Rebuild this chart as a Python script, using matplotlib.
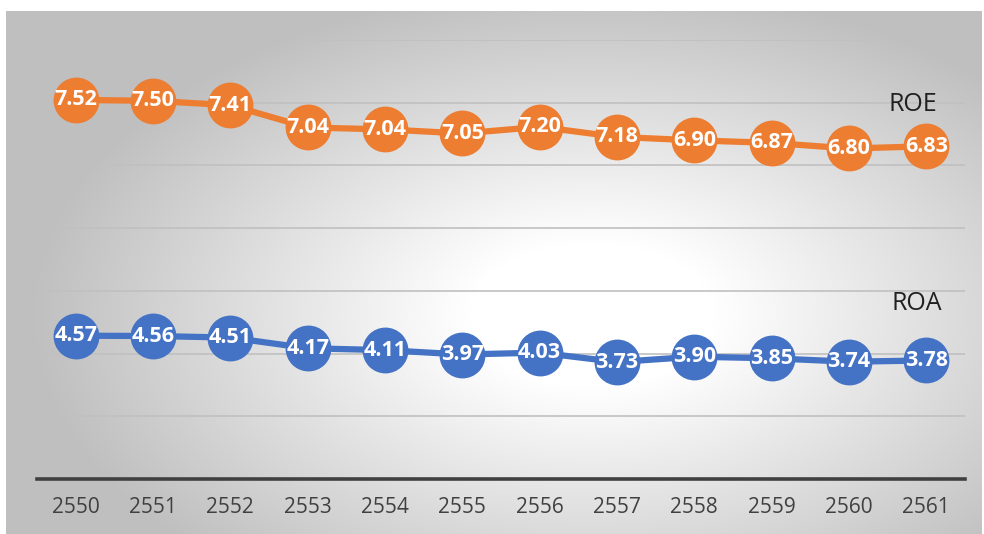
import numpy as np
import matplotlib.pyplot as plt

# data
years = ["2550", "2551", "2552", "2553", "2554", "2555",
         "2556", "2557", "2558", "2559", "2560", "2561"]
roa = [4.57, 4.56, 4.51, 4.17, 4.11, 3.97, 4.03, 3.73, 3.90, 3.85, 3.74, 3.78]
roe = [7.52, 7.50, 7.41, 7.04, 7.04, 7.05, 7.20, 7.18, 6.90, 6.87, 6.80, 6.83]

orange = "#ED7D31"
blue = "#4472C4"

plt.rcParams['font.family'] = ['Open Sans', 'DejaVu Sans']

fig = plt.figure(figsize=(9.84, 5.34), dpi=100)
fig.patch.set_facecolor("white")

# === radial gradient background ===
bg = fig.add_axes([6 / 984, 0, 976 / 984, 523 / 534])
H, W = 523, 976
yy, xx = np.mgrid[0:H, 0:W]
d = np.sqrt(((xx - 0.6 * W) / (0.5 * W)) ** 2 + ((yy - 0.58 * H) / (0.55 * H)) ** 2)
t = np.clip((d - 0.25) / 0.9, 0, 1)
v = 1 - 0.25 * t
bg.imshow(np.dstack([v, v, v]), aspect="auto", extent=[0, 1, 0, 1])
bg.set_axis_off()

# === main chart (stacked line) ===
ax = fig.add_axes([37 / 984, 55 / 534, 928 / 984, 439 / 534])
ax.set_facecolor("none")

x = np.arange(len(years))
roa_arr = np.array(roa)
roe_top = roa_arr + np.array(roe)

for yv in range(2, 16, 2):
    ax.axhline(yv, color="#C0C0C0", lw=1.2, zorder=0)

ax.plot(x, roa_arr, color=blue, lw=4.5, marker="o", ms=32, mec=blue, zorder=3)
ax.plot(x, roe_top, color=orange, lw=4.5, marker="o", ms=32, mec=orange, zorder=3)

for i in range(len(years)):
    ax.text(x[i], roa_arr[i], f"{roa[i]:.2f}", color="white", fontsize=15.5,
            fontweight="bold", ha="center", va="center", zorder=4)
    ax.text(x[i], roe_top[i], f"{roe[i]:.2f}", color="white", fontsize=15.5,
            fontweight="bold", ha="center", va="center", zorder=4)

# series names near the last point
ax.annotate("ROE", (x[-1], roe_top[-1]), xytext=(-10, 30), textcoords="offset points",
            fontsize=18, color="#202020", ha="center", va="center")
ax.annotate("ROA", (x[-1], roa_arr[-1]), xytext=(-7, 41), textcoords="offset points",
            fontsize=18, color="#202020", ha="center", va="center")

ax.set_xlim(-0.5, len(years) - 0.5)
ax.set_ylim(0, 14)
ax.set_xticks(x)
ax.set_xticklabels(years, fontsize=15, color="#404040")
ax.set_yticks([])
ax.tick_params(axis="x", length=0, pad=13)
for s in ["top", "right", "left"]:
    ax.spines[s].set_visible(False)
ax.spines["bottom"].set_color("#404040")
ax.spines["bottom"].set_linewidth(2.6)

plt.savefig("out.png", dpi=100)
